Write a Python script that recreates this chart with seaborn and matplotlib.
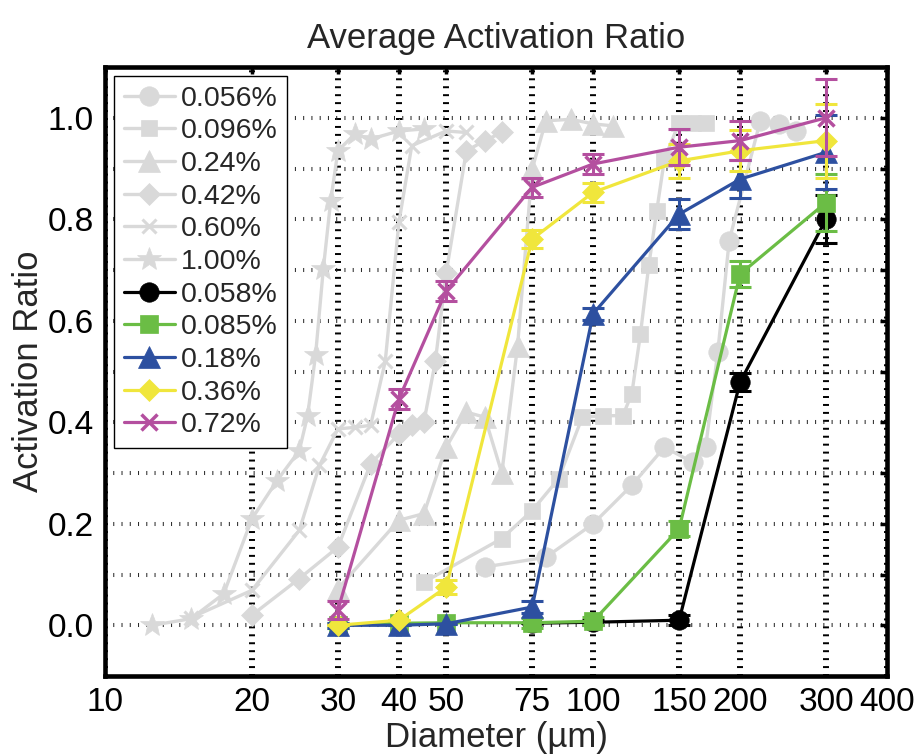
import numpy as np
import pandas as pd
import matplotlib
matplotlib.use("Agg")
import matplotlib.pyplot as plt
import seaborn as sns

# older measurements, drawn in light gray (no error bars)
c056_x = [60, 80, 100, 120, 140, 160, 170, 180, 190, 220, 240, 260]
c056_y = [0.115, 0.134, 0.20, 0.276, 0.351, 0.321, 0.351, 0.538, 0.758, 0.994, 0.988, 0.974]

c096_x = [45, 65, 75, 85, 95, 105, 115, 120, 125, 130, 135, 140, 150, 160, 170]
c096_y = [0.085, 0.171, 0.226, 0.289, 0.41, 0.413, 0.413, 0.456, 0.574, 0.709, 0.817, 0.919, 0.99, 0.99, 0.99]

c24_x = [30, 40, 45, 50, 55, 60, 65, 70, 75, 80, 90, 100, 110]
c24_y = [0.072, 0.207, 0.22, 0.351, 0.42, 0.41, 0.30, 0.55, 0.899, 0.994, 0.997, 0.988, 0.984]

c42_x = [20, 25, 30, 35, 40, 42.5, 45, 47.5, 50, 55, 60, 65]
c42_y = [0.02, 0.092, 0.154, 0.318, 0.377, 0.394, 0.40, 0.52, 0.695, 0.935, 0.955, 0.971]

c60_x = [15, 20, 25, 27.5, 30, 32.5, 35, 37.5, 40, 42.5, 50, 55]
c60_y = [0.015, 0.069, 0.187, 0.315, 0.387, 0.39, 0.394, 0.52, 0.794, 0.945, 0.974, 0.971]

c100_x = [12.5, 15, 17.5, 20, 22.5, 25, 26, 27, 28, 29, 30, 32.5, 35, 40, 45]
c100_y = [0.0, 0.013, 0.062, 0.21, 0.285, 0.344, 0.413, 0.533, 0.702, 0.837, 0.935, 0.968, 0.958, 0.974, 0.978]

# new measurements with error bars
new_x = [30, 40, 50, 75, 100, 150, 200, 300]

n058_x = [75, 100, 150, 200, 300]
n058_y = [0.004, 0.006, 0.01, 0.479, 0.80]
n058_e = [0.0, 0.005, 0.01, 0.018, 0.047]

n085_y = [0.0, 0.004, 0.005, 0.005, 0.008, 0.19, 0.692, 0.833]
n085_e = [0.005, 0.0, 0.0, 0.01, 0.008, 0.015, 0.025, 0.056]

n18_y = [0.0, 0.0, 0.003, 0.036, 0.614, 0.81, 0.879, 0.932]
n18_e = [0.005, 0.0, 0.0, 0.012, 0.012, 0.03, 0.038, 0.073]

n36_y = [0.0, 0.01, 0.075, 0.761, 0.853, 0.915, 0.935, 0.955]
n36_e = [0.0, 0.0, 0.014, 0.018, 0.019, 0.033, 0.04, 0.073]

n72_y = [0.03, 0.446, 0.659, 0.863, 0.909, 0.942, 0.955, 1.0]
n72_e = [0.018, 0.019, 0.02, 0.019, 0.019, 0.036, 0.039, 0.076]

x_ticks = [10, 20, 30, 40, 50, 75, 100, 150, 200, 300, 400]

gray = "#d9d9d9"
gray_series = [
    ("0.056%", c056_x, c056_y, "o", 14),
    ("0.096%", c096_x, c096_y, "s", 11.5),
    ("0.24%", c24_x, c24_y, "^", 16),
    ("0.42%", c42_x, c42_y, "D", 11),
    ("0.60%", c60_x, c60_y, "x", 10),
    ("1.00%", c100_x, c100_y, "*", 18),
]
new_series = [
    ("0.058%", n058_x, n058_y, n058_e, "o", 14, "black"),
    ("0.085%", new_x, n085_y, n085_e, "s", 13, "#6bbd45"),
    ("0.18%", new_x, n18_y, n18_e, "^", 16, "#2d50a0"),
    ("0.36%", new_x, n36_y, n36_e, "D", 11, "#f0e63c"),
    ("0.72%", new_x, n72_y, n72_e, "x", 11, "#b44f9f"),
]

sns.set_style("white")
plt.rcParams["font.family"] = ["Liberation Sans", "DejaVu Sans"]

fig = plt.figure(figsize=(9.19, 7.54), dpi=100)
ax = fig.add_axes([0.1143, 0.1034, 0.8509, 0.8077])

for label, xs, ys, mk, ms in gray_series:
    sns.lineplot(x=xs, y=ys, ax=ax, color=gray, lw=2.4, marker=mk, markersize=ms,
                 markeredgecolor=gray, markerfacecolor=gray,
                 markeredgewidth=2.2 if mk == "x" else 0.5, label=label, zorder=2)

for i, (label, xs, ys, es, mk, ms, col) in enumerate(new_series):
    z = 3 + i
    sns.lineplot(x=xs, y=ys, ax=ax, color=col, lw=2.3, marker=mk, markersize=ms,
                 markeredgecolor=col, markerfacecolor=col,
                 markeredgewidth=2.5 if mk == "x" else 0.5, label=label, zorder=z)
    ax.errorbar(xs, ys, yerr=es, fmt="none", ecolor=col, elinewidth=2.2,
                capsize=8, capthick=2.2, zorder=z)

ax.set_xscale("log")
ax.set_xlim(10, 400)
ax.set_ylim(-0.1, 1.1)
ax.set_xticks(x_ticks)
ax.set_xticklabels([str(t) for t in x_ticks])
ax.xaxis.set_minor_locator(matplotlib.ticker.NullLocator())
y_ticks = np.round(np.arange(0, 1.01, 0.1), 1)
ax.set_yticks(y_ticks)
ax.set_yticklabels([f"{v:.1f}" if i % 2 == 0 else "" for i, v in enumerate(y_ticks)])

ax.set_axisbelow(True)
ax.xaxis.grid(True, color="black", lw=4.3, linestyle=(0, (0.33, 1.0)))
ax.yaxis.grid(True, color="0.15", lw=2.9, linestyle=(0, (0.25, 1.8)))

for sp in ax.spines.values():
    sp.set_linewidth(3.3)
    sp.set_color("black")
ax.tick_params(direction="in", length=5, width=2.5, top=True, right=True,
               labelsize=24, pad=8, colors="black")

ax.set_xlabel("Diameter (µm)", fontsize=25, labelpad=2)
ax.set_ylabel("Activation Ratio", fontsize=25, labelpad=2)
ax.set_title("Average Activation Ratio", fontsize=25, pad=14)

leg = ax.legend(loc="upper left", fontsize=20.5, handlelength=1.8, handletextpad=0.2,
                labelspacing=0.235, borderpad=0.35, borderaxespad=0.3,
                fancybox=False, framealpha=1, edgecolor="black")
leg.get_frame().set_linewidth(1)

fig.savefig("out.png", dpi=100)
